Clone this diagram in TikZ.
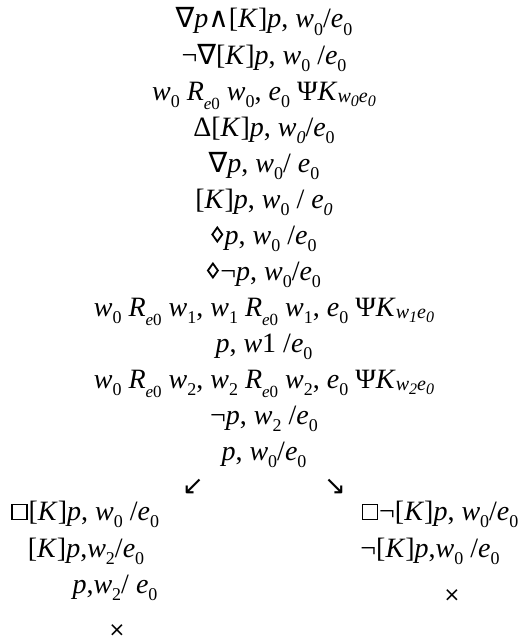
\documentclass[tikz,border=0pt]{standalone}
\usepackage{fontspec}
\setmainfont{Liberation Serif}
\newfontfamily\symf{DejaVu Sans}
\newcommand\zsub[1]{\raisebox{-7.5pt}{\fontsize{18}{18}\selectfont\upshape #1}}
\newcommand\zisub[1]{\raisebox{-7.5pt}{\fontsize{18}{18}\selectfont\itshape #1}}
\newcommand\I[1]{\textit{#1}}
\newcommand\Rsub{\I{R}\raisebox{-9.5pt}{\fontsize{17}{17}\selectfont\itshape e\upshape 0}}
\newcommand\Ksub[1]{\I{K}\raisebox{-2pt}{\fontsize{20}{20}\selectfont\itshape w\raisebox{-4pt}{\fontsize{16}{16}\selectfont #1}e\raisebox{-4pt}{\fontsize{16}{16}\selectfont 0}}}
\newcommand\Sy[1]{{\symf #1}}
\newcommand\myDia{\tikz[x=1pt,y=1pt,baseline=0pt]\draw[line width=1.8pt,line join=miter] (6,2.5)--(11,9.5)--(6,16.5)--(1,9.5)--cycle;\hspace{1.5pt}}
\newcommand\myBox{\tikz[x=1pt,y=1pt,baseline=0pt]\draw[line width=1.6pt] (1,0.5) rectangle (16,15.5);\hspace{1pt}}
\begin{document}
\begin{tikzpicture}[x=1pt,y=-1pt,
  ln/.style={anchor=base,inner sep=0pt,font=\fontsize{28}{28}\selectfont},
  arr/.style={anchor=center,inner sep=0pt,font=\fontsize{26}{26}\selectfont\symf},
  cross/.style={anchor=center,inner sep=0pt,font=\fontsize{20}{20}\selectfont\symf}]
\useasboundingbox[fill=white] (0,0) rectangle (519,642);
\def\cx{264}
\node[ln] (l1) at (\cx,28) {\Sy{∇}\I{p}\Sy{∧}[\I{K}]\I{p}, \I{w}\zsub{0}/\I{e}\zsub{0}};
\node[ln] (l2) at (\cx,64) {¬\Sy{∇}[\I{K}]\I{p}, \I{w}\zsub{0} /\I{e}\zsub{0}};
\node[ln] (l3) at (\cx,100) {\I{w}\zsub{0} \Rsub\ \I{w}\zsub{0}, \I{e}\zsub{0} Ψ\Ksub{0}};
\node[ln] (l4) at (\cx,136) {Δ[\I{K}]\I{p}, \I{w}\zisub{0}/\I{e}\zsub{0}};
\node[ln] (l5) at (\cx,172) {\Sy{∇}\I{p}, \I{w}\zsub{0}/ \I{e}\zsub{0}};
\node[ln] (l6) at (\cx,208) {[\I{K}]\I{p}, \I{w}\zsub{0} / \I{e}\zisub{0}};
\node[ln] (l7) at (\cx,244) {\myDia\I{p}, \I{w}\zsub{0} /\I{e}\zsub{0}};
\node[ln] (l8) at (\cx,280) {\myDia¬\I{p}, \I{w}\zsub{0}/\I{e}\zsub{0}};
\node[ln] (l9) at (\cx,316) {\I{w}\zsub{0} \Rsub\ \I{w}\zsub{1}, \I{w}\zsub{1} \Rsub\ \I{w}\zsub{1}, \I{e}\zsub{0} Ψ\Ksub{1}};
\node[ln] (l10) at (\cx,352) {\I{p}, \I{w}1 /\I{e}\zsub{0}};
\node[ln] (l11) at (\cx,388) {\I{w}\zsub{0} \Rsub\ \I{w}\zsub{2}, \I{w}\zsub{2} \Rsub\ \I{w}\zsub{2}, \I{e}\zsub{0} Ψ\Ksub{2}};
\node[ln] (l12) at (\cx,424) {¬\I{p}, \I{w}\zsub{2} /\I{e}\zsub{0}};
\node[ln] (l13) at (\cx,460) {\I{p}, \I{w}\zsub{0}/\I{e}\zsub{0}};
\node[arr] (al) at (193,487) {↙};
\node[arr] (ar) at (335,487) {↘};
\node[ln] (a1) at (85,520) {\myBox[\I{K}]\I{p}, \I{w}\zsub{0} /\I{e}\zsub{0}};
\node[ln] (a2) at (86,557) {[\I{K}]\I{p},\I{w}\zsub{2}/\I{e}\zsub{0}};
\node[ln] (a3) at (115,593) {\I{p},\I{w}\zsub{2}/ \I{e}\zsub{0}};
\node[cross] (ax) at (117,631) {×};
\node[ln] (b1) at (440,520) {\myBox¬[\I{K}]\I{p}, \I{w}\zsub{0}/\I{e}\zsub{0}};
\node[ln] (b2) at (430,557) {¬[\I{K}]\I{p},\I{w}\zsub{0} /\I{e}\zsub{0}};
\node[cross] (bx) at (452,596) {×};
\end{tikzpicture}
\end{document}
